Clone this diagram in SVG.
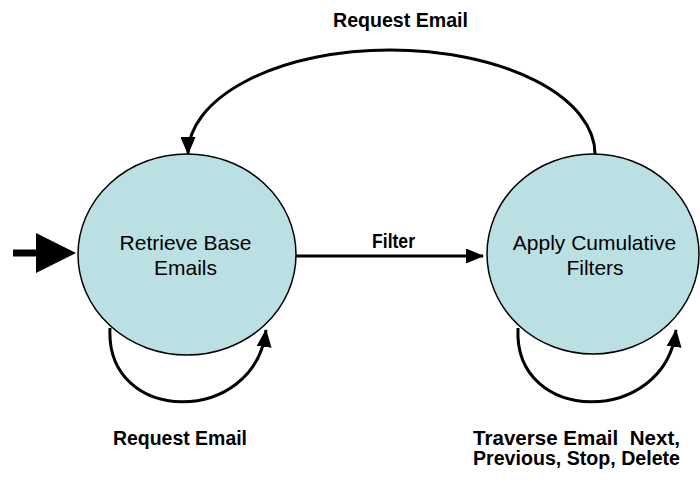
<svg xmlns="http://www.w3.org/2000/svg" width="700" height="481" viewBox="0 0 700 481">
<style>
.state{fill:#BBE0E3;stroke:#000;stroke-width:1.5}
.ntext{font-family:"Liberation Sans",Arial,sans-serif;font-size:21px;fill:#000;text-anchor:middle}
.edge{fill:none;stroke:#000;stroke-width:3}
.lbl{font-family:"Liberation Sans",Arial,sans-serif;font-size:20px;font-weight:bold;fill:#000}
</style>
<defs>
<marker id="ah" markerUnits="userSpaceOnUse" viewBox="0 0 18 15" markerWidth="18" markerHeight="15" refX="17" refY="7.5" orient="auto">
<path d="M0,0 L18,7.5 L0,15 z" fill="#000"/>
</marker>
</defs>
<rect width="700" height="481" fill="#fff"/>
<g id="node-retrieve">
<ellipse class="state" cx="187" cy="254.5" rx="109" ry="100.5"/>
<text class="ntext" x="185.5" y="250">Retrieve Base</text>
<text class="ntext" x="185.5" y="275">Emails</text>
</g>
<g id="node-apply">
<ellipse class="state" cx="593" cy="254" rx="106" ry="100"/>
<text class="ntext" x="594.5" y="250">Apply Cumulative</text>
<text class="ntext" x="595" y="275">Filters</text>
</g>
<g id="connectors">
<g id="start-arrow">
<rect x="13" y="249.5" width="24" height="7" fill="#000"/>
<polygon points="36,233 76,253 36,273" fill="#000"/>
</g>
<path id="edge-filter" class="edge" d="M296,256 L483,256" marker-end="url(#ah)"/>
<path id="edge-request-top" class="edge" d="M595,154 A205,104 0 0 0 390,50 A202,104 0 0 0 188,154" marker-end="url(#ah)"/>
<path id="edge-loop-retrieve" class="edge" d="M110,328 C105,426 255,426 266,330" marker-end="url(#ah)"/>
<path id="edge-loop-apply" class="edge" d="M518,328 C513,426 665,426 676,330" marker-end="url(#ah)"/>
</g>
<g id="labels">
<text class="lbl" x="333" y="27" textLength="135" lengthAdjust="spacingAndGlyphs">Request Email</text>
<text class="lbl" x="372" y="248" font-size="18" textLength="43" lengthAdjust="spacingAndGlyphs">Filter</text>
<text class="lbl" x="113" y="445" textLength="134" lengthAdjust="spacingAndGlyphs">Request Email</text>
<text class="lbl" x="473" y="445" xml:space="preserve" textLength="207" lengthAdjust="spacingAndGlyphs">Traverse Email  Next,</text>
<text class="lbl" x="473" y="465" textLength="207" lengthAdjust="spacingAndGlyphs">Previous, Stop, Delete</text>
</g>
</svg>
